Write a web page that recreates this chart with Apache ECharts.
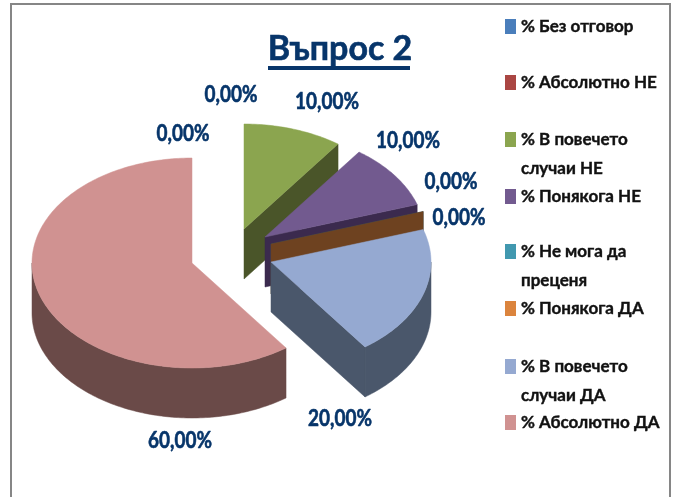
<!DOCTYPE html>
<html>
<head>
<meta charset="utf-8">
<style>
  html, body { margin: 0; padding: 0; background: #fff; }
  #chart { width: 675px; height: 497px; }
</style>
</head>
<body>
<div id="chart"></div>
<script src="https://cdn.jsdelivr.net/npm/echarts@6/dist/echarts.min.js"></script>
<script>
const categories = [
  '% Без отговор',
  '% Абсолютно НЕ',
  '% В повечето\nслучаи НЕ',
  '% Понякога НЕ',
  '% Не мога да\nпреценя',
  '% Понякога ДА',
  '% В повечето\nслучаи ДА',
  '% Абсолютно ДА'
]
const percentValues = [0, 0, 10, 10, 0, 0, 20, 60]

// styles per slice, same order as categories
const topColors = ['#4A7EBB', '#AA4643', '#8BA54F', '#725A8F', '#4198AF', '#DB843D', '#95A9D1', '#D09291']
const sideColors = ['#2C4A6E', '#662A28', '#4A5529', '#3B2A4E', '#27596A', '#6E4220', '#4A576B', '#6A4A48']
const explodeCenters = [
  [192, 263], [192, 263], [244, 229], [265, 237], [271, 244], [271, 244], [271, 262], [192, 263]
]
const labelPositions = [
  [183, 134], [231, 95], [327, 102], [408, 141], [451, 182], [459, 218], [340, 419], [180, 441]
]
const legendRows = [21.5, 77.5, 134.5, 191.5, 246.5, 303.5, 361.5, 417.5]

const radiusX = 160
const radiusY = 105
const pieDepth = 50
const narrowFont = 'Lato, "Noto Sans", sans-serif'

const total = percentValues.reduce((sum, v) => sum + v, 0)

function pointAt(center, deg, drop) {
  const rad = (deg * Math.PI) / 180
  return [center[0] + Math.sin(rad) * radiusX, center[1] - Math.cos(rad) * radiusY + drop]
}

function arcPoints(center, from, to, drop) {
  const pts = []
  const steps = Math.max(1, Math.ceil(Math.abs(to - from)))
  for (let i = 0; i <= steps; i++) {
    pts.push(pointAt(center, from + ((to - from) * i) / steps, drop))
  }
  return pts
}

function polygon(points, fill) {
  return {
    type: 'polygon',
    shape: { points },
    style: { fill, stroke: fill, lineWidth: 0.5 }
  }
}

function sideFace(center, deg, fill) {
  const rim = pointAt(center, deg, 0)
  const rimLow = pointAt(center, deg, pieDepth)
  return polygon([center, rim, rimLow, [center[0], center[1] + pieDepth]], fill)
}

function formatPercent(value) {
  return value.toFixed(2).replace('.', ',') + '%'
}

function buildSliceSeries(name, index) {
  const before = percentValues.slice(0, index).reduce((sum, v) => sum + v, 0)
  const startDeg = (before / total) * 360
  const endDeg = ((before + percentValues[index]) / total) * 360
  const center = explodeCenters[index]
  return {
    name,
    type: 'custom',
    coordinateSystem: 'none',
    silent: true,
    z: 2 + index,
    itemStyle: { color: topColors[index] },
    data: [percentValues[index]],
    renderItem: (params, api) => {
      const children = []
      const side = sideColors[index]
      // only faces turned to the viewer
      if (Math.sin((startDeg * Math.PI) / 180) < -0.001) {
        children.push(sideFace(center, startDeg, side))
      }
      if (Math.sin((endDeg * Math.PI) / 180) > 0.001) {
        children.push(sideFace(center, endDeg, side))
      }
      const rimFrom = Math.max(startDeg, 90)
      const rimTo = Math.min(endDeg, 270)
      if (rimTo > rimFrom) {
        const upper = arcPoints(center, rimFrom, rimTo, 0)
        const lower = arcPoints(center, rimTo, rimFrom, pieDepth)
        children.push(polygon(upper.concat(lower), side))
      }
      if (endDeg > startDeg) {
        children.push(polygon([center].concat(arcPoints(center, startDeg, endDeg, 0)), topColors[index]))
      }
      children.push({
        type: 'text',
        z2: 50,
        x: labelPositions[index][0],
        y: labelPositions[index][1],
        scaleX: 0.86,
        style: {
          text: formatPercent(api.value(0)),
          x: 0,
          y: 0,
          align: 'center',
          verticalAlign: 'middle',
          fill: '#07356A',
          stroke: '#07356A',
          lineWidth: 0.6,
          font: 'bold 22px ' + narrowFont
        }
      })
      return { type: 'group', children }
    }
  }
}

function buildLegend(name, index) {
  const wrapped = name.includes('\n')
  const lineHeight = 29
  return {
    data: [name],
    left: 500,
    // wrapped names get a blank first line so the swatch stays on the first text line
    top: wrapped ? legendRows[index] - lineHeight * 1.5 : legendRows[index] - lineHeight / 2,
    icon: 'rect',
    itemWidth: 11,
    itemHeight: 15,
    selectedMode: false,
    formatter: (text) => (text.includes('\n') ? '\n' + text : text),
    textStyle: {
      color: '#111111',
      fontFamily: narrowFont,
      fontWeight: 'bold',
      fontSize: 17,
      lineHeight,
      textBorderColor: '#111111',
      textBorderWidth: 0.4
    }
  }
}

const chart = echarts.init(document.getElementById('chart'), null, { renderer: 'canvas' })

chart.setOption({
  animation: false,
  backgroundColor: '#ffffff',
  title: {
    text: 'Въпрос 2',
    left: 335,
    top: 27,
    textAlign: 'center',
    textStyle: {
      color: '#07356A',
      fontFamily: narrowFont,
      fontWeight: 'bold',
      fontSize: 34,
      textBorderColor: '#07356A',
      textBorderWidth: 0.6
    }
  },
  legend: categories.map(buildLegend),
  graphic: [
    {
      type: 'rect',
      z: 0,
      shape: { x: 11, y: 4, width: 659, height: 510 },
      style: { fill: 'none', stroke: '#868686', lineWidth: 2 }
    },
    {
      type: 'rect',
      z: 10,
      shape: { x: 268, y: 66, width: 142, height: 4 },
      style: { fill: '#07356A' }
    }
  ],
  series: categories.map(buildSliceSeries)
})

window.addEventListener('resize', () => {
  chart.resize()
})
</script>
</body>
</html>
